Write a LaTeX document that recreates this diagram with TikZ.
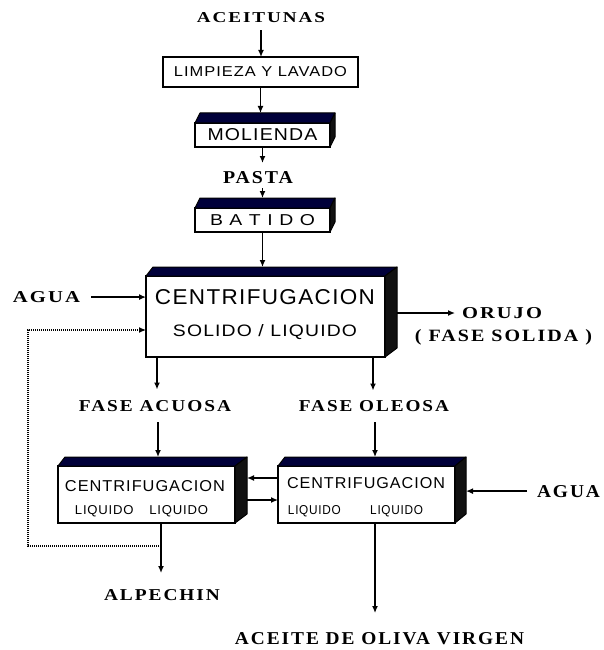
\documentclass[tikz,border=0pt]{standalone}
\usepackage{fontspec}
\usetikzlibrary{arrows.meta,calc}
\setmainfont{Liberation Serif}
\newfontfamily\tsp[LetterSpace=10]{Liberation Serif Bold}
\newfontfamily\ssp[LetterSpace=6]{Liberation Sans}
\newcommand\fitT[3]{\resizebox{#1pt}{#2pt}{#3}}
\definecolor{navyc}{HTML}{00003A}
\definecolor{sidec}{HTML}{111111}
\tikzset{
  arr/.style={line width=1.3pt, -{Latex[length=7pt,width=6pt]}},
  dotarr/.style={line width=1.2pt, dash pattern=on 1pt off 1pt, -{Latex[length=7pt,width=6pt]}},
  front/.style={draw, line width=1.3pt, fill=white, inner sep=0pt, outer sep=0pt},
  lbl/.style={inner sep=0pt, outer sep=0pt, anchor=base},
  topface/.style={fill=navyc, draw=black, line width=1pt, line join=round},
  sideface/.style={fill=sidec, draw=black, line width=1pt, line join=round}
}
% name, left depth x, right depth x, depth y
\newcommand\mkthreed[4]{%
  \filldraw[topface] (#1.north west) -- ++(#2,-#4) -- ([xshift=#3pt,yshift=#4pt]#1.north east) -- (#1.north east) -- cycle;
  \filldraw[sideface] (#1.north east) -- ([xshift=#3pt,yshift=#4pt]#1.north east) -- ([xshift=#3pt,yshift=#4pt]#1.south east) -- (#1.south east) -- cycle;
  \coordinate (#1-top) at ([yshift=#4pt]#1.north);
}
\begin{document}
\begin{tikzpicture}[x=1pt,y=-1pt]
\useasboundingbox[fill=white] (0,0) rectangle (604,650);

% ---- top chain
\node[lbl] (aceit) at (261,23) {\fitT{128}{10}{\tsp ACEITUNAS}};
\node[front,minimum width=195pt,minimum height=30pt] (limp) at (260.5,72) {\fitT{173}{10}{\ssp LIMPIEZA Y LAVADO}};
\node[front,minimum width=135pt,minimum height=24pt] (mol) at (262.5,135) {\fitT{110}{12}{\ssp MOLIENDA}};
\mkthreed{mol}{5}{5}{10}
\node[lbl] (pasta) at (258,183) {\fitT{70}{12}{\tsp PASTA}};
\node[front,minimum width=135pt,minimum height=24pt] (bat) at (262.5,220) {\fitT{105}{11}{\ssp B A T I D O}};
\mkthreed{bat}{5}{5}{10}

% ---- big centrifuge
\node[front,minimum width=239pt,minimum height=81pt] (cen) at (265.5,316.5) {};
\mkthreed{cen}{7}{12}{9}
\node[lbl] (cen1) at (265,304.5) {\fitT{220}{15}{\ssp CENTRIFUGACION}};
\node[lbl] (cen2) at (265,336) {\fitT{184}{12}{\ssp SOLIDO / LIQUIDO}};
\node[lbl] (aguaL) at (46.5,302.5) {\fitT{67}{11}{\tsp AGUA}};
\node[lbl] (orujo) at (502,318.5) {\fitT{80}{11}{\tsp ORUJO}};
\node[lbl] (fsol) at (503.5,341) {\fitT{177}{12}{\tsp ( FASE SOLIDA )}};
\node[lbl] (facu) at (155,411.5) {\fitT{152}{11}{\tsp FASE ACUOSA}};
\node[lbl] (fole) at (374,411.5) {\fitT{150}{11}{\tsp FASE OLEOSA}};

% ---- liquid/liquid centrifuges
\node[front,minimum width=177pt,minimum height=57pt] (La) at (146.5,494.5) {};
\mkthreed{La}{7}{12}{9}
\node[front,minimum width=177pt,minimum height=57pt] (Lb) at (366.5,494.5) {};
\mkthreed{Lb}{7}{11}{9}
\node[lbl] (La1) at (145,491.5) {\fitT{160}{11}{\ssp CENTRIFUGACION}};
\node[lbl] (La2) at (141.5,514.5) {\fitT{133}{9}{\ssp LIQUIDO\hspace{1.2em}LIQUIDO}};
\node[lbl] (Lb1) at (366,488.5) {\fitT{158}{11}{\ssp CENTRIFUGACION}};
\node[lbl] (Lb2) at (355.5,514.5) {\fitT{135}{9}{\ssp LIQUIDO\hspace{2.5em}LIQUIDO}};
\node[lbl] (aguaR) at (568.5,497) {\fitT{63}{12}{\tsp AGUA}};
\node[lbl] (alpe) at (162,600.5) {\fitT{116}{11}{\tsp ALPECHIN}};
\node[lbl] (aceite) at (379.5,644) {\fitT{289}{12}{\tsp ACEITE DE OLIVA VIRGEN}};

% ---- connectors
\draw[arr,shorten <=7pt] (aceit.south) -- (aceit.south |- limp.north);
\draw[arr] (limp.south) -- (limp.south |- mol-top);
\draw[arr,shorten >=8pt] (mol.south) -- (mol.south |- pasta.north);
\draw[arr,shorten <=5pt] (mol.south |- pasta.south) -- (mol.south |- bat-top);
\draw[arr] (bat.south) -- (bat.south |- cen-top);
\draw[arr,shorten <=11pt] (aguaL.east) -- (aguaL.east -| cen.west);

\coordinate (orA) at ([xshift=12pt,yshift=3.5pt]cen.east);
\draw[arr,shorten >=7pt] (orA) -- (orA -| orujo.west);

\coordinate (cA) at ([xshift=11pt]cen.south west);
\coordinate (cB) at ([xshift=-12pt]cen.south east);
\draw[arr,shorten >=11pt] (cA) -- (cA |- facu.north);
\draw[arr,shorten >=10pt] (cB) -- (cB |- fole.north);

\coordinate (a1) at ([xshift=11.5pt]La-top);
\coordinate (b1) at ([xshift=8.5pt]Lb-top);
\draw[arr,shorten <=10.5pt] (a1 |- facu.south) -- (a1);
\draw[arr,shorten <=10.5pt] (b1 |- fole.south) -- (b1);

\coordinate (LaR) at ([xshift=12pt]La.east);
\coordinate (u1) at ([yshift=16.5pt]Lb.west);
\coordinate (u2) at ([yshift=-5.5pt]Lb.west);
\draw[arr] (u1) -- (u1 -| LaR);
\draw[arr] (u2 -| LaR) -- (u2);

\coordinate (LbR) at ([xshift=11pt]Lb.east);
\draw[arr,shorten <=10pt] (aguaR.west) -- (aguaR.west -| LbR);

\coordinate (d1) at ([xshift=14.5pt]La.south);
\coordinate (d2) at ([xshift=8.5pt]Lb.south);
\draw[arr,shorten >=16.5pt] (d1) -- (d1 |- alpe.north);
\draw[arr,shorten >=19pt] (d2) -- (d2 |- aceite.north);

\coordinate (jn) at ([yshift=-23pt]d1);
\coordinate (retE) at ([yshift=-13.5pt]cen.west);
\draw[dotarr] (jn) -- ++(-133,0) |- (retE);
\end{tikzpicture}
\end{document}
